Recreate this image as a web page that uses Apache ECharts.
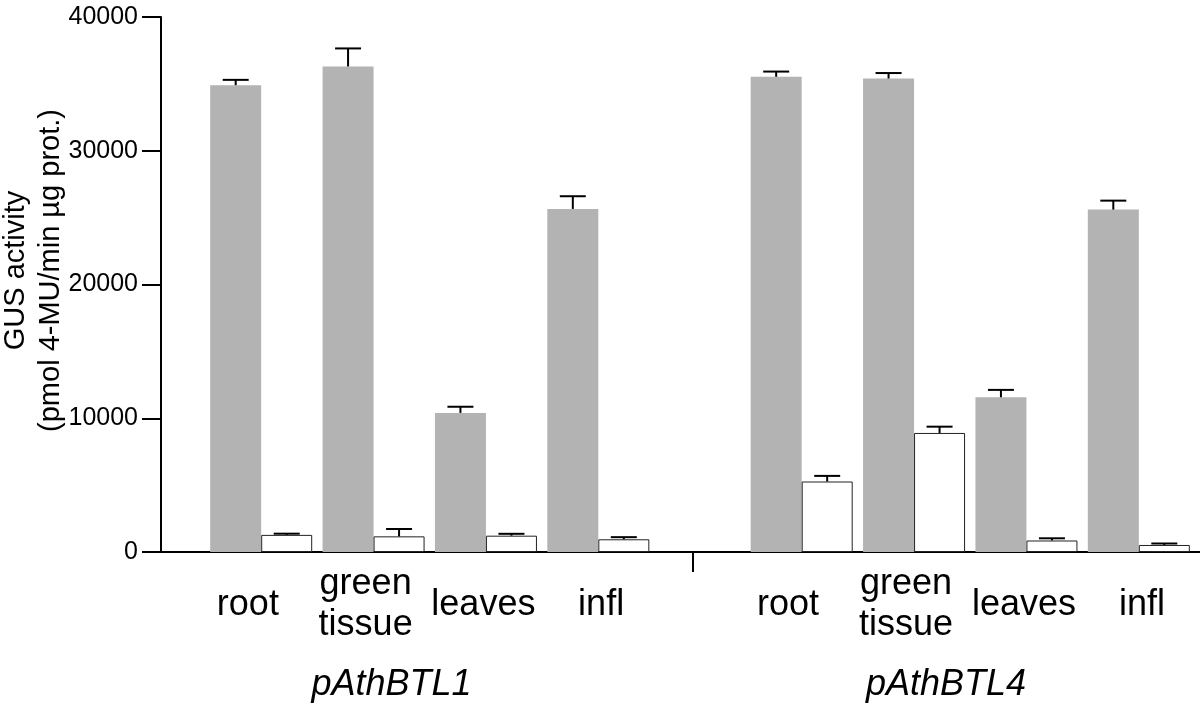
<!DOCTYPE html>
<html>
<head>
<meta charset="utf-8">
<script src="https://cdn.jsdelivr.net/npm/echarts@6/dist/echarts.min.js"></script>
<style>
html,body{margin:0;padding:0;background:#fff;}
#c{width:1200px;height:707px;}
</style>
</head>
<body>
<div id="c"></div>
<script>
// ---- data ----
const categories = ['root', 'green\ntissue', 'leaves', 'infl'];
const groups = ['pAthBTL1', 'pAthBTL4'];
const yTicks = [0, 10000, 20000, 30000, 40000];

const btl1Gray = [34900, 36300, 10400, 25650];
const btl1GrayErr = [400, 1350, 460, 950];
const btl1White = [1280, 1170, 1220, 950];
const btl1WhiteErr = [90, 550, 140, 160];

const btl4Gray = [35530, 35400, 11570, 25600];
const btl4GrayErr = [390, 410, 550, 670];
const btl4White = [5270, 8900, 860, 525];
const btl4WhiteErr = [420, 470, 165, 110];

// ---- styles ----
const FONT = "'Liberation Sans', Arial, Helvetica, sans-serif";
const BAR_W = 51;
const CAP_W = 26;
const GRAY = '#b3b3b3';
const TOP = 17, BOTTOM = 155;
const yMin = yTicks[0], yMax = yTicks[yTicks.length - 1], yInt = yTicks[1] - yTicks[0];

function hiddenY(gridIndex) {
  return {type: 'value', gridIndex, min: yMin, max: yMax, interval: yInt, show: false, splitLine: {show: false}};
}
function hiddenX(gridIndex, data) {
  return {type: 'category', gridIndex, data, axisLine: {show: false}, axisTick: {show: false},
          axisLabel: {show: false}, splitLine: {show: false}};
}
function labelX(gridIndex, data, groupName, shift) {
  return {type: 'category', gridIndex, data, axisLine: {show: false}, axisTick: {show: false},
          axisLabel: {show: true, margin: 53, fontSize: 36, fontFamily: FONT, color: '#000',
                      lineHeight: 41, verticalAlign: 'middle', interval: 0},
          name: groupName, nameLocation: 'middle', nameGap: 133, nameMoveOverlap: false,
          nameTextStyle: {fontSize: 36, fontFamily: FONT, fontStyle: 'italic', color: '#000',
                          verticalAlign: 'middle', padding: [0, shift * 2, 0, 0]}};
}
function errSeries(xi, vals, errs, offset) {
  return {
    type: 'custom', xAxisIndex: xi, yAxisIndex: xi, z: 5,
    data: vals.map((v, i) => [i, v, errs[i]]),
    encode: {x: 0, y: 1},
    renderItem: function (params, api) {
      const base = api.coord([api.value(0), api.value(1)]);
      const top = api.coord([api.value(0), api.value(1) + api.value(2)]);
      const x = base[0] + offset;
      const st = {stroke: '#000', lineWidth: 2};
      return {type: 'group', children: [
        {type: 'line', shape: {x1: x, y1: base[1], x2: x, y2: top[1]}, style: st},
        {type: 'line', shape: {x1: x - CAP_W / 2, y1: top[1], x2: x + CAP_W / 2, y2: top[1]}, style: st}
      ]};
    }
  };
}
function barPair(xi, gray, white) {
  return [
    {type: 'bar', xAxisIndex: xi, yAxisIndex: xi, data: gray, barWidth: BAR_W, barGap: '0%',
     itemStyle: {color: GRAY}, silent: true},
    {type: 'bar', xAxisIndex: xi, yAxisIndex: xi, data: white, barWidth: BAR_W, barGap: '0%',
     itemStyle: {color: '#fff', borderColor: '#222', borderWidth: 1}, silent: true}
  ];
}
function grid(o) { return Object.assign({top: TOP, bottom: BOTTOM, containLabel: false, outerBoundsMode: 'none'}, o); }

const option = {
  animation: false,
  backgroundColor: '#fff',
  grid: [
    grid({left: 161, right: -25}),       // frame
    grid({left: 205, width: 449.5}),     // BTL1 bars
    grid({left: 745.5, width: 449.5}),   // BTL4 bars
    grid({left: 189, width: 471}),       // BTL1 labels
    grid({left: 729, width: 472})        // BTL4 labels
  ],
  xAxis: [
    {type: 'category', gridIndex: 0, data: [groups[0], '', groups[1]],
     axisLine: {show: true, lineStyle: {color: '#000', width: 2}},
     axisTick: {show: true, alignWithLabel: true, length: 20, inside: false,
                interval: (i) => i === 1, lineStyle: {color: '#000', width: 2}},
     axisLabel: {show: false}, splitLine: {show: false}},
    hiddenX(1, categories),
    hiddenX(2, categories),
    labelX(3, categories, groups[0], 33),
    labelX(4, categories, groups[1], 19)
  ],
  yAxis: [
    {type: 'value', gridIndex: 0, min: yMin, max: yMax, interval: yInt,
     axisLine: {show: true, lineStyle: {color: '#000', width: 2}},
     axisTick: {show: true, length: 19, inside: false, lineStyle: {color: '#000', width: 2}},
     axisLabel: {show: true, margin: 23, fontSize: 25, fontFamily: FONT, color: '#000',
                 formatter: (v) => String(v)},
     splitLine: {show: false},
     name: 'GUS activity\n(pmol 4-MU/min µg prot.)', nameLocation: 'middle', nameRotate: 90, nameGap: 128,
     nameMoveOverlap: false,
     nameTextStyle: {fontSize: 29, fontFamily: FONT, color: '#000', lineHeight: 35,
                     verticalAlign: 'middle', align: 'center', padding: [0, 0, 0, 28]}},
    hiddenY(1), hiddenY(2), hiddenY(3), hiddenY(4)
  ],
  series: [
    ...barPair(1, btl1Gray, btl1White),
    ...barPair(2, btl4Gray, btl4White),
    errSeries(1, btl1Gray, btl1GrayErr, -BAR_W / 2),
    errSeries(1, btl1White, btl1WhiteErr, BAR_W / 2),
    errSeries(2, btl4Gray, btl4GrayErr, -BAR_W / 2),
    errSeries(2, btl4White, btl4WhiteErr, BAR_W / 2)
  ]
};

const chart = echarts.init(document.getElementById('c'), null, {renderer: 'canvas'});
chart.setOption(option);
</script>
</body>
</html>
